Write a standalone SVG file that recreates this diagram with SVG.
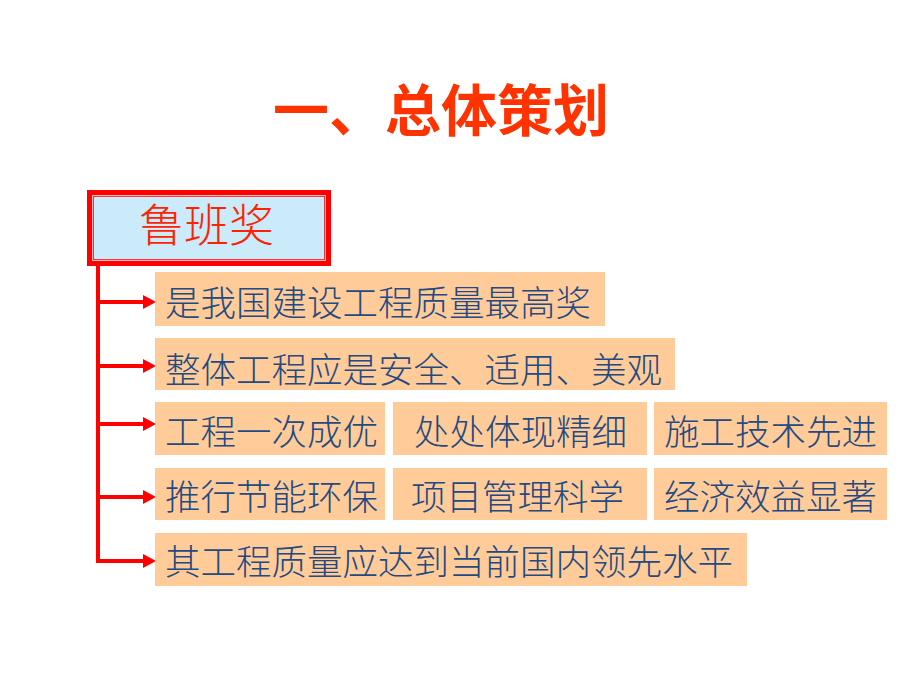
<svg xmlns="http://www.w3.org/2000/svg" width="920" height="690" viewBox="0 0 920 690">
  <style>
    .title { font-family: "Noto Sans CJK SC", "Liberation Sans", sans-serif; font-size: 56px; font-weight: bold; fill: #FF3300; }
    .root { font-family: "Noto Sans CJK SC", "Liberation Sans", sans-serif; font-size: 45px; font-weight: 300; fill: #FF2200; }
    .lbl { font-family: "Noto Sans CJK SC", "Liberation Sans", sans-serif; font-size: 35.5px; font-weight: 300; fill: #234A82; }
    .box { fill: #FFCC99; }
    .conn { stroke: #FF0000; stroke-width: 4; fill: none; }
  </style>
  <defs>
    <marker id="arr" markerUnits="userSpaceOnUse" markerWidth="14" markerHeight="14" refX="2" refY="7" orient="auto">
      <path d="M0,0 L13,7 L0,14 Z" fill="#FF0000"/>
    </marker>
  </defs>
  <rect width="920" height="690" fill="#FFFFFF"/>

  <text class="title" x="273" y="131">一、总体策划</text>

  <g id="node-root">
    <rect x="87" y="190" width="244" height="76" fill="#FF0000"/>
    <rect x="92" y="195" width="234" height="66" fill="#F8B8B8"/>
    <rect x="93.5" y="196.5" width="231" height="63" fill="#CCEBFA" stroke="#E03A3A" stroke-width="1"/>
    <text class="root" x="139" y="242">鲁班奖</text>
  </g>

  <g id="connectors">
    <path class="conn" d="M98,266 V561 H145" marker-end="url(#arr)"/>
    <path class="conn" d="M98,302 H145" marker-end="url(#arr)"/>
    <path class="conn" d="M98,366 H145" marker-end="url(#arr)"/>
    <path class="conn" d="M98,424 H145" marker-end="url(#arr)"/>
    <path class="conn" d="M98,497 H145" marker-end="url(#arr)"/>
  </g>

  <g id="node-1">
    <rect class="box" x="155" y="272" width="450" height="54"/>
    <text class="lbl" x="165" y="316">是我国建设工程质量最高奖</text>
  </g>
  <g id="node-2">
    <rect class="box" x="155" y="338" width="520" height="52"/>
    <text class="lbl" x="165" y="383">整体工程应是安全、适用、美观</text>
  </g>
  <g id="node-3a">
    <rect class="box" x="155" y="402" width="230" height="53"/>
    <text class="lbl" x="165" y="445">工程一次成优</text>
  </g>
  <g id="node-3b">
    <rect class="box" x="393" y="402" width="254" height="53"/>
    <text class="lbl" x="414" y="445">处处体现精细</text>
  </g>
  <g id="node-3c">
    <rect class="box" x="654" y="402" width="233" height="53"/>
    <text class="lbl" x="664" y="445">施工技术先进</text>
  </g>
  <g id="node-4a">
    <rect class="box" x="155" y="468" width="230" height="52"/>
    <text class="lbl" x="165" y="510">推行节能环保</text>
  </g>
  <g id="node-4b">
    <rect class="box" x="393" y="468" width="254" height="52"/>
    <text class="lbl" x="411" y="510">项目管理科学</text>
  </g>
  <g id="node-4c">
    <rect class="box" x="654" y="468" width="233" height="52"/>
    <text class="lbl" x="664" y="510">经济效益显著</text>
  </g>
  <g id="node-5">
    <rect class="box" x="155" y="533" width="592" height="53"/>
    <text class="lbl" x="165" y="575">其工程质量应达到当前国内领先水平</text>
  </g>
</svg>
